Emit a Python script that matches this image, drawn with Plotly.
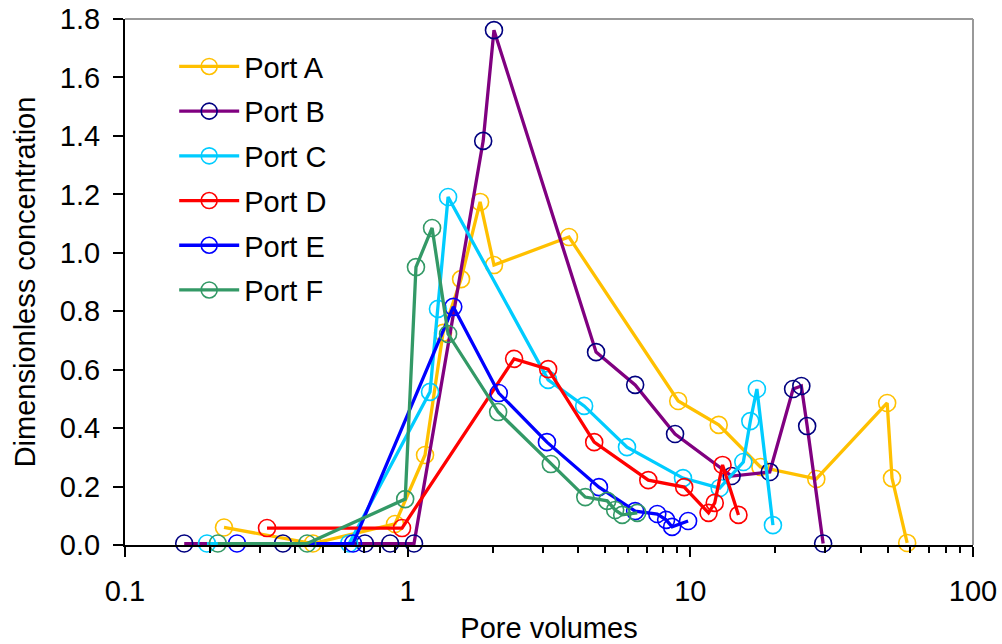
import plotly.graph_objects as go

# Port A
a_x = [0.224, 0.462, 0.902, 1.152, 1.334, 1.545, 1.804, 2.02, 3.72, 9.06, 12.6, 17.7, 27.9, 49.7, 51.7, 58.5]
a_y = [0.06, 0.005, 0.072, 0.308, 0.726, 0.910, 1.174, 0.958, 1.054, 0.493, 0.411, 0.267, 0.226, 0.486, 0.229, 0.007]
# Port B
b_x = [0.162, 0.362, 0.706, 0.867, 1.053, 1.85, 2.02, 4.64, 6.38, 8.83, 14.0, 19.1, 23.1, 24.7, 25.9, 29.5]
b_y = [0.005, 0.005, 0.005, 0.005, 0.005, 1.383, 1.762, 0.660, 0.548, 0.380, 0.236, 0.250, 0.534, 0.544, 0.407, 0.005]
# Port C
c_x = [0.195, 0.621, 1.20, 1.28, 1.39, 3.14, 4.21, 5.97, 9.42, 12.7, 15.4, 16.3, 17.2, 19.6]
c_y = [0.005, 0.005, 0.524, 0.808, 1.191, 0.565, 0.476, 0.335, 0.229, 0.195, 0.284, 0.424, 0.534, 0.068]
# Port D
d_x = [0.318, 0.955, 2.38, 3.14, 4.57, 7.10, 9.51, 11.6, 12.2, 13.0, 14.8]
d_y = [0.058, 0.058, 0.637, 0.602, 0.352, 0.222, 0.198, 0.110, 0.144, 0.274, 0.103]
# Port E
e_x = [0.249, 0.641, 1.45, 2.10, 3.11, 4.75, 6.38, 7.64, 8.21, 8.62, 9.82]
e_y = [0.005, 0.005, 0.815, 0.520, 0.352, 0.198, 0.116, 0.106, 0.086, 0.062, 0.082]
# Port F
f_x = [0.213, 0.441, 0.98, 1.07, 1.22, 1.39, 2.09, 3.21, 4.25, 5.08, 5.42, 5.74, 6.49]
f_y = [0.005, 0.005, 0.157, 0.951, 1.085, 0.722, 0.455, 0.277, 0.164, 0.151, 0.120, 0.103, 0.110]

names = ["Port A", "Port B", "Port C", "Port D", "Port E", "Port F"]
xs = [a_x, b_x, c_x, d_x, e_x, f_x]
ys = [a_y, b_y, c_y, d_y, e_y, f_y]
line_colors = ["#FFC000", "#800080", "#00CCFF", "#FF0000", "#0000FF", "#339966"]
marker_colors = ["#FFC000", "#000080", "#00CCFF", "#FF0000", "#0000FF", "#339966"]

x_tickvals = [0.1, 1, 10, 100]
x_ticktext = ["0.1", "1", "10", "100"]
x_minor_vals = [k * 10.0 ** d for d in (-1, 0, 1) for k in range(2, 10)]
y_tickvals = [0.0, 0.2, 0.4, 0.6, 0.8, 1.0, 1.2, 1.4, 1.6, 1.8]
y_ticktext = ["0.0", "0.2", "0.4", "0.6", "0.8", "1.0", "1.2", "1.4", "1.6", "1.8"]

FONT = "Arial, Liberation Sans, sans-serif"
FS = 29

fig = go.Figure()
for i in range(6):
    fig.add_trace(go.Scatter(
        x=xs[i], y=ys[i], name=names[i], mode="lines+markers",
        legendgroup=names[i],
        line=dict(color=line_colors[i], width=3.3),
        marker=dict(symbol="circle-open", size=17,
                    line=dict(color=marker_colors[i], width=1.6),
                    color=marker_colors[i]),
        cliponaxis=False,
    ))

fig.update_layout(
    width=1002, height=644,
    margin=dict(l=125, r=29, t=19, b=99, autoexpand=False),
    paper_bgcolor="white", plot_bgcolor="white",
    font=dict(family=FONT, size=FS, color="black"),
    showlegend=True,
    legend=dict(x=0.058, y=0.958, xanchor="left", yanchor="top",
                bgcolor="rgba(0,0,0,0)", font=dict(size=FS, family=FONT),
                tracegroupgap=4, itemwidth=60),
    shapes=[
        dict(type="line", xref="paper", yref="paper", x0=0, x1=1, y0=1, y1=1,
             line=dict(color="#999999", width=2)),
        dict(type="line", xref="paper", yref="paper", x0=1, x1=1, y0=0, y1=1,
             line=dict(color="#999999", width=2)),
    ],
)

fig.update_xaxes(
    type="log", range=[-1, 2], automargin=False,
    tickvals=x_tickvals, ticktext=x_ticktext,
    showgrid=False, zeroline=False,
    showline=True, linecolor="black", linewidth=2,
    ticks="outside", ticklen=10, tickwidth=2, tickcolor="black",
    minor=dict(tickvals=x_minor_vals, ticks="outside", ticklen=6, tickwidth=1.5,
               tickcolor="black", showgrid=False),
    tickfont=dict(size=FS, family=FONT),
    ticklabelstandoff=9,
    title=dict(text="Pore volumes", font=dict(size=FS, family=FONT), standoff=14),
)
fig.update_yaxes(
    range=[0, 1.8001], automargin=False,
    tickvals=y_tickvals, ticktext=y_ticktext,
    showgrid=False, zeroline=False,
    showline=True, linecolor="black", linewidth=2,
    ticks="outside", ticklen=10, tickwidth=2, tickcolor="black",
    tickfont=dict(size=FS, family=FONT),
    ticklabelstandoff=7,
    title=dict(text="Dimensionless concentration", font=dict(size=FS, family=FONT), standoff=16),
)

fig.write_html("out.html", config={"displayModeBar": False},
               post_script="document.body.style.margin='0';")
